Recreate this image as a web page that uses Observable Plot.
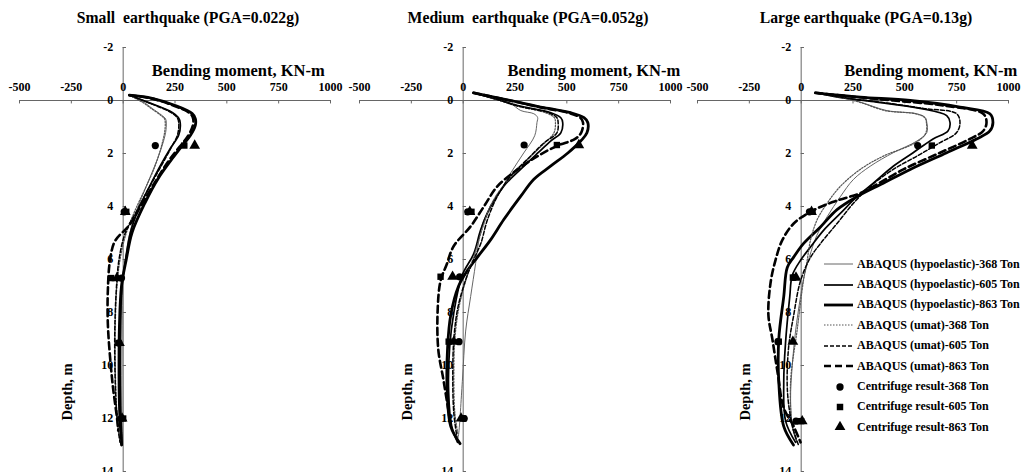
<!DOCTYPE html>
<html>
<head>
<meta charset="utf-8">
<script src="https://cdn.jsdelivr.net/npm/d3@7"></script>
<script src="https://cdn.jsdelivr.net/npm/@observablehq/plot@0.6"></script>
<style>
  html, body { margin: 0; padding: 0; background: #fff; overflow: hidden; }
  #wrap { position: relative; width: 1031px; height: 472px; font-family: "Liberation Serif", "Times New Roman", serif; }
  .panel { position: absolute; top: 0; width: 340px; height: 472px; }
  .ttl { height: 30px; box-sizing: border-box; padding-top: 9px; line-height: 18px; font-weight: bold; font-size: 15.7px; width: 376px; text-align: center; white-space: pre; }
  #legend { position: absolute; left: 823px; top: 254px; font-weight: bold; font-size: 12px; }
  .row { height: 20.4px; display: flex; align-items: center; white-space: pre; }
  .row svg { display: block; margin-right: 4px; }
</style>
</head>
<body>
<div id="wrap"></div>
<script>
// ---------- data ----------
const ticksX = [-500, -250, 0, 250, 500, 750, 1000];
const ticksY = [-2, 0, 2, 4, 6, 8, 10, 12, 14];
const panelTitles = ["Small  earthquake (PGA=0.022g)", "Medium  earthquake (PGA=0.052g)", "Large earthquake (PGA=0.13g)"];
const xLabel = "Bending moment, KN-m";
const yLabel = "Depth, m";
const lineNames = ["ABAQUS (hypoelastic)-368 Ton", "ABAQUS (hypoelastic)-605 Ton", "ABAQUS (hypoelastic)-863 Ton",
                   "ABAQUS (umat)-368 Ton", "ABAQUS (umat)-605 Ton", "ABAQUS (umat)-863 Ton"];
const markerNames = ["Centrifuge result-368 Ton", "Centrifuge result-605 Ton", "Centrifuge result-863 Ton"];

// Small earthquake: [moment, depth]
const smallHypo368 = [[30,-0.2],[106,0.1],[140,0.3],[185,0.55],[205,0.7],[208,0.85],[205,1.2],[182,1.85],[148,2.55],[108,3.3],[70,4.05],[32,5.0],[10,6.0],[-2,7.0],[-5,8.5],[-6,10],[-6,11.5],[-4,12.5],[-2,13]];
const smallHypo605 = [[30,-0.2],[121,0.07],[237,0.45],[266,0.64],[275,0.83],[268,1.3],[228,1.8],[180,2.45],[130,3.2],[75,4.08],[35,4.98],[12,6.0],[-6,7.0],[-12,8.5],[-14,10],[-12,11.5],[-8,12.5],[-5,13]];
const smallHypo863 = [[30,-0.2],[140,-0.08],[251,0.19],[333,0.49],[348,0.68],[348,0.94],[324,1.32],[285,1.7],[237,2.19],[169,2.94],[106,3.85],[43,4.98],[15,6.0],[-8,7.0],[-18,8.5],[-20,10],[-18,11.5],[-12,12.5],[-8,13]];
const smallUmat368 = [[30,-0.2],[100,0.1],[135,0.3],[180,0.55],[200,0.7],[203,0.85],[200,1.2],[180,1.85],[150,2.55],[105,3.35],[60,4.1],[15,5.0],[-15,6.0],[-30,7.0],[-38,8.5],[-38,10],[-32,11.5],[-22,12.5],[-15,12.9]];
const smallUmat605 = [[30,-0.2],[118,0.07],[230,0.45],[260,0.64],[268,0.83],[262,1.3],[230,1.8],[185,2.45],[128,3.25],[70,4.1],[10,5.0],[-20,6.0],[-32,7.0],[-40,8.5],[-40,10],[-34,11.5],[-24,12.4],[-15,12.9]];
const smallUmat863 = [[30,-0.2],[135,-0.08],[245,0.2],[325,0.5],[338,0.7],[336,0.95],[312,1.35],[272,1.75],[222,2.25],[160,3.0],[95,3.85],[30,4.7],[-39,5.3],[-63,6.0],[-74,7.2],[-74,8.4],[-63,9.7],[-48,10.9],[-30,11.96],[-24,12.45]];
const smallDepths = [1.7, 4.2, 6.7, 9.15, 12.0];
const smallC368 = [155, 5, -8, -20, -10];
const smallC605 = [295, 15, -58, -23, 0];
const smallC863 = [345, 10, -30, -18, -5];

// Medium earthquake
const medHypo368 = [[50,-0.29],[150,-0.05],[229,0.12],[278,0.38],[341,0.5],[359,0.64],[356,0.83],[345,1.33],[292,1.98],[229,2.74],[166,3.6],[100,4.5],[75,5.3],[60,6.15],[36,7.4],[12,8.7],[-4,10.6],[-22,12.6],[-27,12.8]];
const medHypo605 = [[50,-0.29],[160,-0.05],[263,0.19],[423,0.46],[471,0.65],[480,0.83],[471,1.22],[423,1.52],[360,1.98],[278,2.59],[196,3.23],[133,3.99],[85,4.87],[51,5.78],[-5,6.6],[-45,8.0],[-65,9.3],[-70,11.0],[-55,12.3],[-27,12.9]];
const medHypo863 = [[50,-0.29],[229,0],[390,0.27],[519,0.46],[583,0.65],[601,0.83],[597,1.22],[568,1.52],[505,1.98],[423,2.47],[341,2.97],[278,3.61],[196,4.49],[133,5.25],[70,5.9],[22,6.4],[-22,7.0],[-60,8.1],[-75,9.3],[-77,11.0],[-60,12.3],[-15,12.95]];
const medUmat368 = [[50,-0.29],[160,-0.05],[255,0.2],[400,0.47],[440,0.65],[445,0.83],[438,1.22],[400,1.55],[340,2.0],[265,2.6],[190,3.25],[130,4.0],[90,4.9],[55,5.8],[20,6.6],[-20,7.8],[-40,9.0],[-45,10.5],[-40,11.8],[-25,12.6]];
const medUmat605 = [[50,-0.29],[160,-0.05],[260,0.2],[415,0.47],[452,0.65],[458,0.83],[452,1.22],[390,1.6],[312,2.2],[229,2.85],[166,3.6],[117,4.5],[85,5.4],[51,6.0],[15,6.7],[-25,7.8],[-45,9.0],[-50,10.5],[-45,11.8],[-30,12.7]];
const medUmat863 = [[50,-0.29],[225,0],[380,0.27],[505,0.46],[565,0.65],[578,0.83],[570,1.2],[540,1.45],[456,1.7],[359,2.1],[263,2.6],[166,3.23],[100,4.0],[36,4.75],[-46,5.5],[-80,6.2],[-109,6.8],[-123,7.9],[-120,9.4],[-96,10.5],[-75,11.5],[-60,12.2]];
const medDepths = [1.68, 4.2, 6.65, 9.1, 12.0];
const medC368 = [294, 22, -17, -20, 5];
const medC605 = [452, 40, -109, -70, 0];
const medC863 = [558, 32, -51, -45, -10];

// Large earthquake
const largeHypo368 = [[69,-0.29],[200,-0.1],[285,0.06],[413,0.38],[558,0.5],[598,0.64],[606,0.83],[606,1.21],[558,1.53],[444,1.97],[333,2.48],[252,2.98],[189,3.63],[125,4.39],[75,5.1],[40,5.9],[15,6.6],[-3,7.4],[-27,8.7],[-43,10],[-51,11.3],[-40,12.4],[-20,12.9]];
const largeHypo605 = [[69,-0.29],[220,-0.08],[365,0.06],[574,0.3],[702,0.57],[718,0.83],[708,1.15],[636,1.45],[540,1.97],[444,2.48],[348,3.12],[269,3.63],[189,4.26],[108,4.9],[45,5.53],[-3,6.03],[-43,6.6],[-55,7.4],[-75,9.1],[-84,10.6],[-75,12.1],[-27,12.9]];
const largeHypo863 = [[69,-0.29],[285,-0.13],[526,0],[766,0.25],[910,0.5],[925,0.83],[910,1.15],[846,1.45],[702,1.97],[526,2.6],[396,3.12],[269,3.63],[173,4.12],[93,4.77],[11,5.4],[-37,5.92],[-67,6.3],[-84,7.4],[-108,9.0],[-108,10.6],[-84,12.3],[-37,13]];
const largeUmat368 = [[69,-0.29],[200,-0.1],[280,0.06],[405,0.38],[550,0.5],[595,0.64],[604,0.83],[600,1.25],[545,1.62],[396,2.1],[285,2.6],[189,3.24],[125,3.88],[77,4.5],[45,5.27],[29,6.03],[11,6.8],[-20,8.7],[-51,10.6],[-43,12.3],[-20,12.9]];
const largeUmat605 = [[69,-0.29],[230,-0.08],[380,0.06],[590,0.3],[750,0.5],[766,0.83],[750,1.21],[670,1.59],[558,2.1],[444,2.6],[333,3.24],[252,3.88],[173,4.64],[93,5.4],[45,5.92],[-3,6.8],[-36,8.1],[-61,9.35],[-66,11],[-42,12.3],[-13,13]];
const largeUmat863 = [[69,-0.29],[280,-0.12],[444,0],[685,0.19],[878,0.5],[894,0.83],[878,1.15],[814,1.45],[670,1.97],[493,2.6],[348,3.24],[285,3.5],[156,3.82],[45,4.2],[-37,4.65],[-91,5.27],[-124,6.03],[-148,6.9],[-158,8.1],[-139,9.0],[-113,10.3],[-84,11.6],[-36,12.3],[-3,12.9]];
const largeDepths = [1.7, 4.2, 6.68, 9.1, 12.1];
const largeC368 = [562, 40, -35, -112, -25];
const largeC605 = [630, 55, -40, -108, 0];
const largeC863 = [825, 50, -25, -40, 5];

// ---------- styles ----------
const lineStyles = [
  {stroke: "#666", strokeWidth: 1},
  {stroke: "#000", strokeWidth: 1.7},
  {stroke: "#000", strokeWidth: 2.8},
  {stroke: "#555", strokeWidth: 1.2, strokeDasharray: "1.5,1.5"},
  {stroke: "#000", strokeWidth: 1.5, strokeDasharray: "4,2"},
  {stroke: "#000", strokeWidth: 2.6, strokeDasharray: "7,4"}
];
const markerSymbols = ["circle", "square", "triangle"];

const panels = [
  {left: 0, title: panelTitles[0], lines: [smallHypo368, smallHypo605, smallHypo863, smallUmat368, smallUmat605, smallUmat863], depths: smallDepths, markers: [smallC368, smallC605, smallC863], xLabelAt: 555},
  {left: 340, title: panelTitles[1], lines: [medHypo368, medHypo605, medHypo863, medUmat368, medUmat605, medUmat863], depths: medDepths, markers: [medC368, medC605, medC863], xLabelAt: 630},
  {left: 678, title: panelTitles[2], lines: [largeHypo368, largeHypo605, largeHypo863, largeUmat368, largeUmat605, largeUmat863], depths: largeDepths, markers: [largeC368, largeC605, largeC863], xLabelAt: 625}
];

const wrap = document.getElementById("wrap");

for (const p of panels) {
  const div = document.createElement("div");
  div.className = "panel";
  div.style.left = p.left + "px";
  const t = document.createElement("div");
  t.className = "ttl";
  t.textContent = p.title;
  div.appendChild(t);

  const marks = [
    Plot.ruleY([0], {x1: -500, x2: 1000, stroke: "#666", strokeWidth: 1}),
    Plot.ruleX(ticksX, {x: d => d, y1: 0, y2: 0.13, stroke: "#666"}),
    Plot.ruleX([0], {y1: -2, y2: 14, stroke: "#666", strokeWidth: 1}),
    Plot.ruleY(ticksY, {y: d => d, x1: 0, x2: 16, stroke: "#666"}),
    Plot.text(ticksX, {x: d => d, y: 0, dy: -13, text: d => String(d), fontWeight: "bold", fontSize: 12}),
    Plot.text(ticksY, {x: 0, y: d => d, dx: -10, textAnchor: "end", text: d => String(d), fontWeight: "bold", fontSize: 12}),
    Plot.text([xLabel], {x: p.xLabelAt, y: -1.12, text: d => d, fontWeight: "bold", fontSize: 16.5}),
    Plot.text([yLabel], {x: -270, y: 11, rotate: -90, text: d => d, fontWeight: "bold", fontSize: 14.5})
  ];
  p.lines.forEach((arr, i) => {
    marks.push(Plot.line(arr, {x: d => d[0], y: d => d[1], curve: "catmull-rom", ...lineStyles[i]}));
  });
  p.markers.forEach((vals, i) => {
    marks.push(Plot.dot(vals.map((v, j) => [v, p.depths[j]]), {x: d => d[0], y: d => d[1], symbol: markerSymbols[i], fill: "#000", stroke: "none", r: i === 2 ? 4 : 3.6}));
  });

  const chart = Plot.plot({
    width: 340,
    height: 442,
    marginTop: 17,
    marginBottom: 1,
    marginLeft: 19,
    marginRight: 10,
    x: {domain: [-500, 1000], axis: null},
    y: {domain: [-2, 14], reverse: true, axis: null},
    style: {fontFamily: "'Liberation Serif', 'Times New Roman', serif", background: "transparent", overflow: "visible", color: "#000"},
    marks
  });
  div.appendChild(chart);
  wrap.appendChild(div);
}

// legend
const legend = document.createElement("div");
legend.id = "legend";
lineNames.forEach((name, i) => {
  const row = document.createElement("div");
  row.className = "row";
  const s = lineStyles[i];
  row.innerHTML = `<svg width="30" height="10"><line x1="1" y1="5" x2="30" y2="5" stroke="${s.stroke}" stroke-width="${s.strokeWidth}" ${s.strokeDasharray ? `stroke-dasharray="${s.strokeDasharray}"` : ""}/></svg><span>${name}</span>`;
  legend.appendChild(row);
});
markerNames.forEach((name, i) => {
  const row = document.createElement("div");
  row.className = "row";
  const sym = d3.symbol().type([d3.symbolCircle, d3.symbolSquare, d3.symbolTriangle][i]).size(i === 2 ? 50 : 42)();
  row.innerHTML = `<svg width="30" height="12"><path transform="translate(17,6)" d="${sym}" fill="#000"/></svg><span>${name}</span>`;
  legend.appendChild(row);
});
wrap.appendChild(legend);
</script>
</body>
</html>
